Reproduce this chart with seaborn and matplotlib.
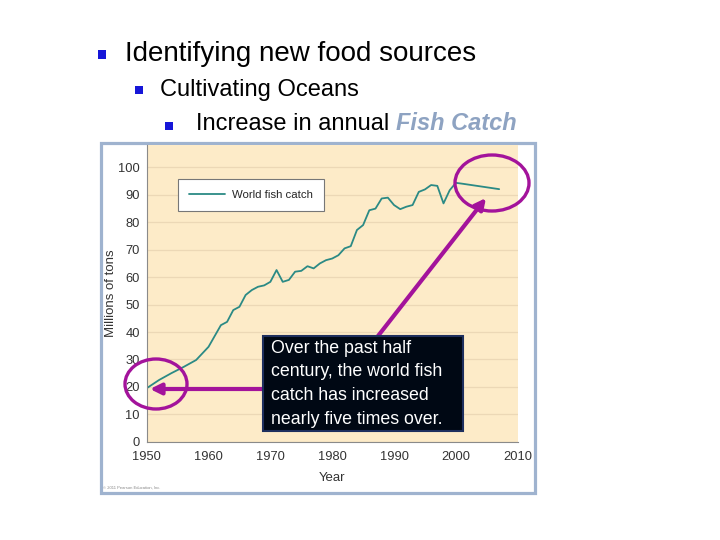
import matplotlib
matplotlib.use("Agg")
import matplotlib.pyplot as plt
from matplotlib.patches import Rectangle, Ellipse, FancyArrowPatch
import seaborn as sns
import pandas as pd

# ---- data ----
years = [1950, 1952, 1954, 1956, 1958, 1960, 1962, 1963, 1964, 1965, 1966, 1967,
         1968, 1969, 1970, 1971, 1972, 1973, 1974, 1975, 1976, 1977, 1978, 1979,
         1980, 1981, 1982, 1983, 1984, 1985, 1986, 1987, 1988, 1989, 1990, 1991,
         1992, 1993, 1994, 1995, 1996, 1997, 1998, 1999, 2000, 2001, 2007]
catch = [19.5, 22.5, 25.0, 27.3, 29.8, 34.6, 42.5, 43.7, 48.0, 49.2, 53.5, 55.3,
         56.5, 57.0, 58.3, 62.6, 58.3, 59.0, 62.0, 62.3, 64.0, 63.2, 65.0, 66.2,
         66.8, 68.0, 70.5, 71.3, 77.2, 79.0, 84.4, 85.0, 88.7, 89.0, 86.3, 84.8,
         85.7, 86.3, 91.1, 92.0, 93.6, 93.3, 86.9, 91.7, 94.4, 94.1, 92.1]
series_name = "World fish catch"
x_ticks = [1950, 1960, 1970, 1980, 1990, 2000, 2010]
y_ticks = [0, 10, 20, 30, 40, 50, 60, 70, 80, 90, 100]
title_lines = ["Identifying new food sources", "Cultivating Oceans", "Increase in annual "]
highlight = "Fish Catch"
note = "Over the past half\ncentury, the world fish\ncatch has increased\nnearly five times over."

df = pd.DataFrame({"Year": years, "Catch": catch, "series": series_name})

sns.set_theme(style="white")
plt.rcParams["font.family"] = ["Liberation Sans", "DejaVu Sans"]

W, H = 720, 540
fig = plt.figure(figsize=(7.2, 5.4), dpi=100)
fig.patch.set_facecolor("white")

def fx(px):
    return px / W

def fy(py):
    return 1 - py / H

# outer light-blue frame
fig.add_artist(Rectangle((fx(101), fy(493)), fx(535) - fx(101), fy(143) - fy(493),
                         transform=fig.transFigure, facecolor="white",
                         edgecolor="#9fb3cf", lw=2.3, zorder=0))

ax = fig.add_axes([fx(146.7), fy(441.7), fx(517.7) - fx(146.7), fy(145) - fy(441.7)])
ax.set_facecolor("#fdebc8")
ax.set_zorder(1)

sns.lineplot(data=df, x="Year", y="Catch", hue="series", palette=["#2b8a85"],
             lw=1.3, ax=ax)

ax.set_xlim(1950, 2010)
ax.set_ylim(0, 108.2)
ax.set_xticks(x_ticks)
ax.set_yticks(y_ticks)
ax.yaxis.grid(True, color="#ecd8b6", lw=0.9)
ax.xaxis.grid(False)
ax.set_axisbelow(True)
for s in ["top", "right"]:
    ax.spines[s].set_visible(False)
for s in ["left", "bottom"]:
    ax.spines[s].set_color("#8a8a8a")
    ax.spines[s].set_linewidth(0.8)
ax.tick_params(axis="both", direction="in", length=3, color="#8a8a8a",
               labelsize=9.3, labelcolor="#333333")
ax.tick_params(axis="x", pad=7)
ax.tick_params(axis="y", pad=5)
ax.set_xlabel("Year", fontsize=9.5, color="#333333", labelpad=6)
ax.set_ylabel("Millions of tons", fontsize=9.5, color="#333333", labelpad=1)

leg = ax.legend(loc="upper left", bbox_to_anchor=(0.084, 0.885), borderaxespad=0,
                fontsize=8.2, frameon=True, fancybox=False, handlelength=3.2,
                handletextpad=0.6, borderpad=0.95, title=None)
leg.get_frame().set_edgecolor("#777777")
leg.get_frame().set_linewidth(0.8)
leg.get_frame().set_facecolor("white")
leg.get_frame().set_alpha(1)

# ---- slide text ----
blue = "#1616d8"
def bullet(x0, y0, size):
    fig.add_artist(Rectangle((fx(x0), fy(y0 + size)), size / W, size / H,
                             transform=fig.transFigure, facecolor=blue,
                             edgecolor="none", zorder=5))

bullet(98, 50, 8.5)
fig.text(fx(125), fy(61), title_lines[0], fontsize=20, color="black", va="baseline")
bullet(135, 86, 7.5)
fig.text(fx(160), fy(96), title_lines[1], fontsize=17, color="black", va="baseline")
bullet(165, 122, 7.5)
t3 = fig.text(fx(196), fy(130.5), title_lines[2], fontsize=17, color="black",
              va="baseline")
fig.canvas.draw()
bb = t3.get_window_extent()
fig.text(bb.x1 / W, fy(130.5), highlight, fontsize=17, color="#8ea3c2",
         fontweight="bold", fontstyle="italic", va="baseline")

# copyright
fig.text(fx(103), fy(489), "© 2011 Pearson Education, Inc.", fontsize=3,
         color="#888888", va="baseline")

# ---- annotation overlays ----
mag = "#a3139b"
fig.add_artist(Rectangle((fx(263), fy(431)), fx(463) - fx(263), fy(336) - fy(431),
                         transform=fig.transFigure, facecolor="#000814",
                         edgecolor="#1e2f5e", lw=1.5, zorder=6))
fig.text(fx(271), fy(340), note, fontsize=12.8, color="white", va="top", ha="left",
         linespacing=1.5, zorder=7)

fig.add_artist(Ellipse((fx(156), fy(384)), 62 / W, 50 / H, transform=fig.transFigure,
                       facecolor="none", edgecolor=mag, lw=2.4, zorder=8))
fig.add_artist(Ellipse((fx(492), fy(183)), 74 / W, 56 / H, transform=fig.transFigure,
                       facecolor="none", edgecolor=mag, lw=2.4, zorder=8))

fig.add_artist(FancyArrowPatch((fx(263), fy(389)), (fx(150), fy(389)),
                               transform=fig.transFigure, arrowstyle="-|>",
                               mutation_scale=16, color=mag, lw=3, zorder=5,
                               shrinkA=0, shrinkB=0))
fig.add_artist(FancyArrowPatch((fx(378), fy(336)), (fx(486), fy(198)),
                               transform=fig.transFigure, arrowstyle="-|>",
                               mutation_scale=16, color=mag, lw=3, zorder=5,
                               shrinkA=0, shrinkB=0))

fig.savefig("out.png", dpi=100)
